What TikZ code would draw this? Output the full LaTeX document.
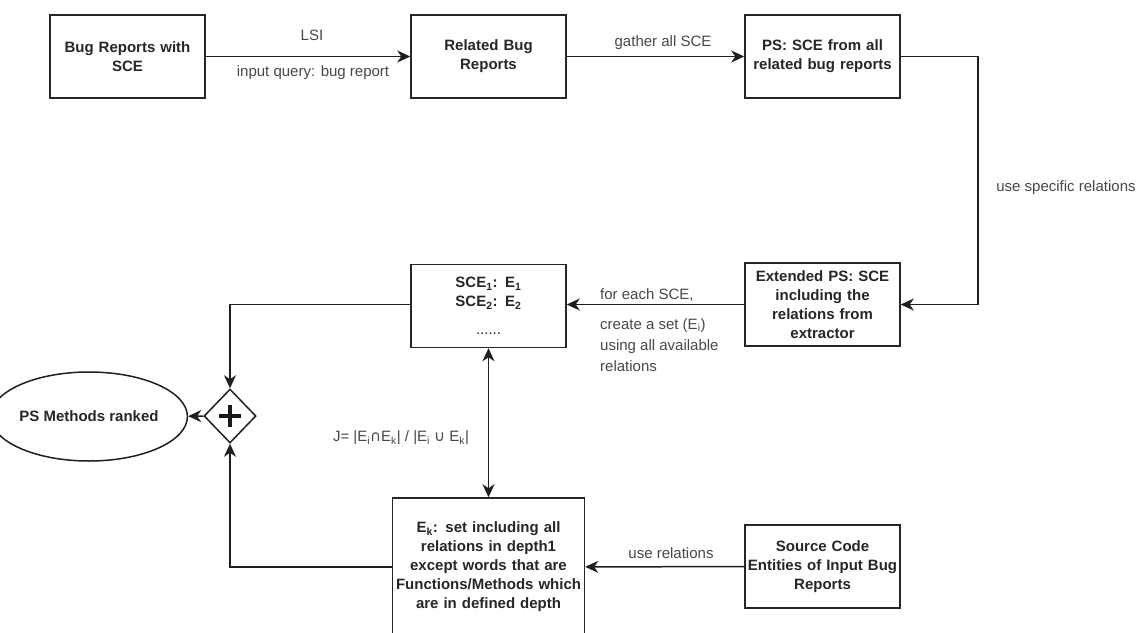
\documentclass[tikz,border=0pt]{standalone}
\usepackage{fontspec}
\setmainfont{Liberation Sans}
\newfontfamily\symfont{DejaVu Sans}
\usetikzlibrary{arrows.meta,shapes.geometric}
\begin{document}
\begin{tikzpicture}[x=1pt,y=-1pt,
  box/.style={draw=black!85, line width=1.5pt, minimum width=155pt, minimum height=83pt,
    inner sep=2pt, align=center, text width=150pt, text=black!85,
    font=\fontsize{15}{19}\selectfont\bfseries},
  lbl/.style={text=black!72, inner sep=0pt, font=\fontsize{15}{19}\selectfont},
  tip/.tip={Stealth[length=13pt,width=12pt,inset=4pt]},
  conn/.style={draw=black!88, line width=1.5pt, -tip},
]
\useasboundingbox (0,0) rectangle (1145,632);

% process boxes
\node[box] (b1) at (127.5,56.5) {Bug Reports with\\SCE};
\node[box] (b2) at (488.5,56.5) {Related Bug\\Reports};
\node[box] (b3) at (822.5,56.5) {PS: SCE from all\\related bug reports};
\node[box] (b4) at (822.5,304.5) {Extended PS: SCE\\including the\\relations from\\extractor};
\node[box] (b5) at (488.5,306) {SCE\textsubscript{1}: E\textsubscript{1}\\SCE\textsubscript{2}: E\textsubscript{2}\\[9pt]{\mdseries ......}};
\node[box, minimum width=192pt, text width=188pt, minimum height=138pt] (b7) at (488.5,567)
  {E\textsubscript{k}: set including all\\relations in depth1\\except words that are\\Functions/Methods which\\are in defined depth};
\node[box] (b8) at (822.5,566.5) {Source Code\\Entities of Input Bug\\Reports};

% merge gateway and result
\node[draw=black!88, line width=1.5pt, diamond, minimum width=52pt, minimum height=54pt, inner sep=0pt] (d) at (230,416) {};
\draw[line width=4pt, black!90] ([xshift=-11pt]d.center) -- ([xshift=11pt]d.center);
\draw[line width=4pt, black!90] ([yshift=-11pt]d.center) -- ([yshift=11pt]d.center);
\node[draw=black!88, line width=1.5pt, ellipse, minimum width=154pt, minimum height=89pt, inner sep=0pt,
  font=\fontsize{15}{19}\selectfont\bfseries, text=black!85] (res) at (89,416.5) {PS Methods ranked};

% connectors
\draw[conn] (b1) -- (b2);
\draw[conn] (b2) -- (b3);
\draw[conn] (b3.east) -- ++(77,0) |- (b4.east);
\draw[conn] (b4.west) -- (b4.west -| b5.east);
\draw[conn, tip-tip] (b5) -- (b7);
\draw[conn] (b5.west |- b4.west) -| (d.north);
\draw[conn] (b7.west) -| (d.south);
\draw[conn] (d) -- (res);
\draw[conn] (b8) -- (b7);

% connector labels
\node[lbl] (l1) at (312,35) {LSI};
\node[lbl] (l2) at (313,73) {input query: bug report};
\node[lbl] (l3) at (663,43) {gather all SCE};
\node[lbl] (l4) at (1066,188) {use specific relations};
\node[lbl, anchor=west] (l5) at (600,295) {for each SCE,};
\node[lbl, anchor=north west, align=left, font=\fontsize{15}{21}\selectfont] (l6) at (600,318)
  {create a set (E\textsubscript{i})\\using all available\\relations};
\node[lbl] (l7) at (401,438) {J= |E\textsubscript{i}{\symfont ∩}E\textsubscript{k}| / |E\textsubscript{i} {\symfont ∪} E\textsubscript{k}|};
\node[lbl] (l8) at (671,553) {use relations};
\end{tikzpicture}
\end{document}
